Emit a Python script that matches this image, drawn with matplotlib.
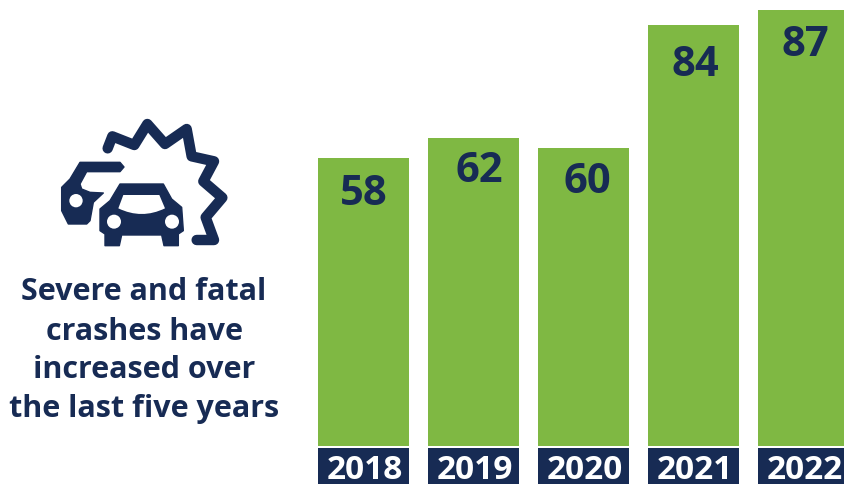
import matplotlib
matplotlib.use('Agg')
from matplotlib import pyplot as plt
from matplotlib.patches import Circle, Polygon, PathPatch
from matplotlib.path import Path

years = ['2018', '2019', '2020', '2021', '2022']
crashes = [57.5, 61.5, 59.5, 84, 87]
bar_labels = ['58', '62', '60', '84', '87']
caption = ['Severe and fatal', 'crashes have', 'increased over', 'the last five years']

GREEN = '#7fb843'
NAVY = '#172b54'
W, H = 844, 485
plt.rcParams['font.family'] = ['Open Sans', 'DejaVu Sans']

fig = plt.figure(figsize=(W / 100, H / 100), dpi=100)

# bars, scaled so 110 px separates years and 5.01 px is one crash
ax = fig.add_axes([300 / W, 0, (W - 300) / W, 1])
ax.set_xlim((300 - 363.5) / 110, (W - 363.5) / 110)
ax.set_ylim(-38 / 5.01, 447 / 5.01)
ax.axis('off')
pos = range(len(years))
ax.bar(pos, crashes, width=91 / 110, color=GREEN, edgecolor='none')
ax.bar(pos, [-7.2] * 5, bottom=-0.4, width=91 / 110, color=NAVY, edgecolor='none')

label_dx = [0, 5.5, 3.5, 1.5, 1.5]
label_dy = [31, 28, 29, 34, 29]
for i in pos:
    ax.annotate(bar_labels[i], (i, crashes[i]), xytext=(label_dx[i] * 0.72, -label_dy[i] * 0.72),
                textcoords='offset points', ha='center', va='center_baseline',
                fontsize=30, fontweight='bold', color=NAVY)
    ax.text(i + 1.5 / 110, -3.8, years[i], ha='center', va='center_baseline',
            fontsize=24, fontweight='bold', color='white')

# icon + caption in plain pixel coords
left = fig.add_axes([0, 0, 300 / W, 1])
left.set_xlim(0, 300)
left.set_ylim(H, 0)
left.axis('off')


def z(points):
    return [(40 + x / 3, 100 + y / 3) for x, y in points]


burst = z([(203, 148), (217, 112), (283, 138), (322, 75), (375, 135), (440, 90), (455, 172),
           (522, 187), (490, 247), (547, 296), (497, 355), (522, 423), (470, 423)])
left.plot(*zip(*burst), color=NAVY, lw=7.5, solid_joinstyle='round', solid_capstyle='round')

car = z([(240, 255), (370, 255), (395, 300), (425, 325), (430, 395), (415, 405), (415, 440),
         (372, 440), (365, 408), (245, 408), (238, 440), (195, 440), (195, 405), (180, 395),
         (180, 330), (210, 305)])
left.add_patch(Polygon(car, closed=True, fc=NAVY, ec=NAVY, lw=1, joinstyle='round'))

shield = z([(250, 288), (358, 288), (375, 328), (305, 362), (235, 328), (250, 288)])
codes = [Path.MOVETO, Path.LINETO, Path.LINETO, Path.CURVE3, Path.CURVE3, Path.CLOSEPOLY]
left.add_patch(PathPatch(Path(shield, codes), fc='white', ec='none'))

back = z([(120, 190), (240, 190), (252, 204), (240, 218), (140, 218), (120, 255), (125, 270),
          (150, 280), (190, 282), (160, 310), (150, 365), (140, 375), (85, 375), (65, 335),
          (65, 265), (90, 240)])
left.add_patch(Polygon(back, closed=True, fc=NAVY, ec=NAVY, lw=1, joinstyle='round'))

for x, y, r in [(222, 368, 21), (396, 368, 21), (108, 305, 20)]:
    cx, cy = z([(x, y)])[0]
    left.add_patch(Circle((cx, cy), r / 3, fc='white', ec='none'))

for line, y in zip(caption, [292, 332, 370, 409]):
    left.text(144, y, line, ha='center', va='center', fontsize=22, fontweight='bold', color=NAVY)

fig.savefig('out.png', dpi=100)
